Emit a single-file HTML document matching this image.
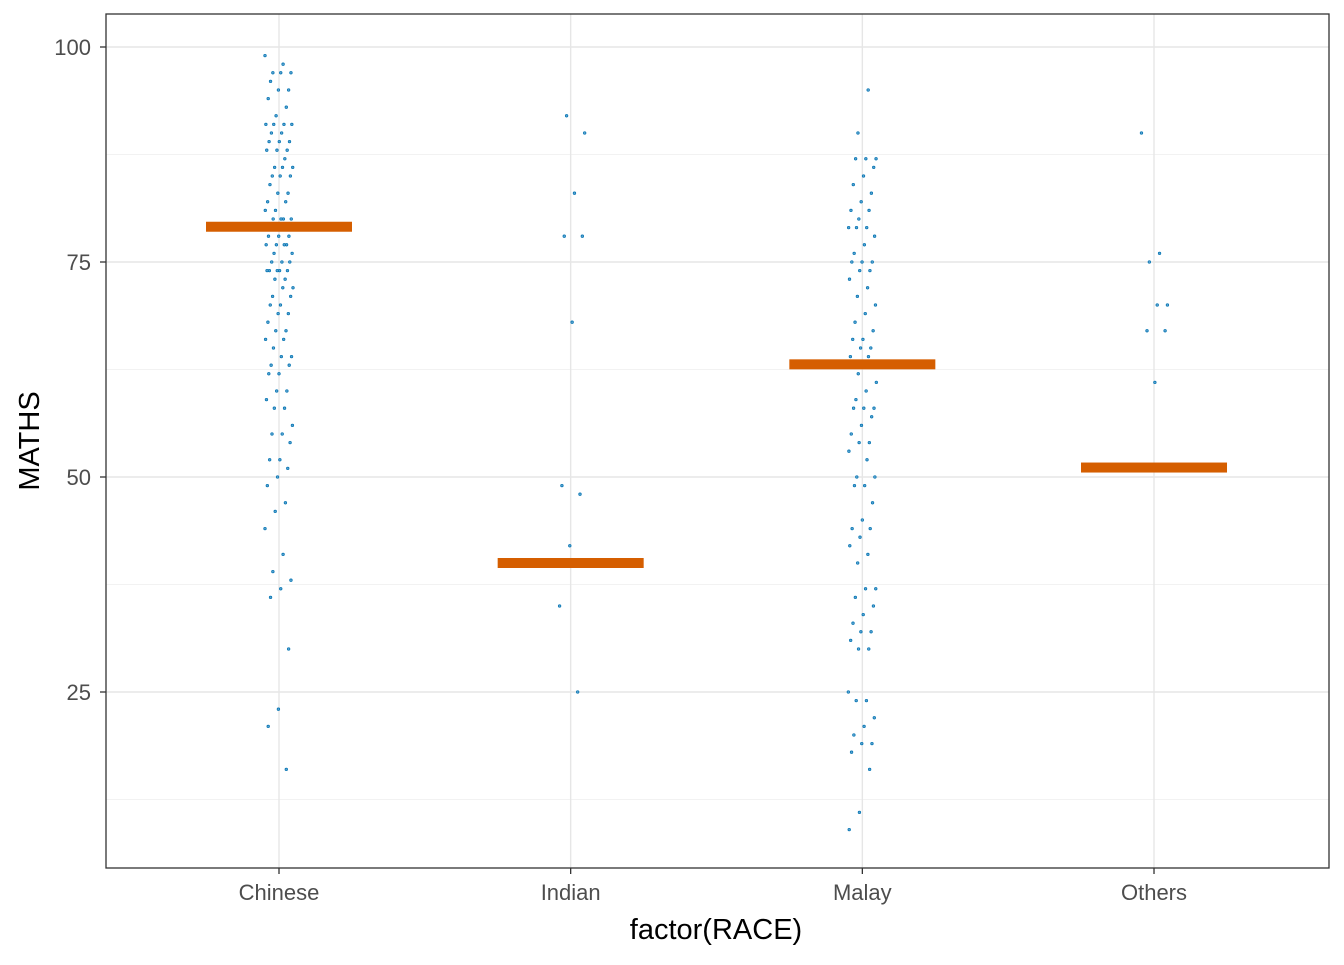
<!DOCTYPE html>
<html><head><meta charset="utf-8"><style>
body{margin:0;background:#fff}
svg text{font-family:"Liberation Sans",Arial,sans-serif}
</style></head><body>
<svg id="chart" width="1344" height="960">
<g id="grid"></g>
<g id="pts"></g>
<g id="means"></g>
<rect x="106" y="14" width="1223" height="854" fill="none" stroke="#333" stroke-width="1.3"/>
<g id="axes"></g>
<text x="716" y="939" text-anchor="middle" font-size="29" fill="#000">factor(RACE)</text>
<text transform="translate(39,441) rotate(-90)" text-anchor="middle" font-size="29" fill="#000">MATHS</text>
</svg>
<script>
const categories=["Chinese","Indian","Malay","Others"];
const yTicks=[25,50,75,100];
const yMinor=[12.5,37.5,62.5,87.5];
const meanValues=[79.1,40.0,63.1,51.1];
const chinese=[99,98,97,97,97,96,95,95,94,93,92,91,91,91,91,90,90,89,89,89,88,88,88,87,86,86,86,85,85,85,84,83,83,82,82,81,81,80,80,80,80,79,78,78,78,77,77,77,77,76,76,75,75,75,74,74,74,74,74,73,73,72,72,71,71,70,70,69,69,68,67,67,66,66,65,64,64,63,63,62,62,60,60,59,58,58,56,55,55,54,52,52,51,50,49,47,46,44,41,39,38,37,36,30,23,21,16];
const indian=[92,90,83,78,78,68,49,48,42,35,25];
const malay=[95,90,87,87,87,86,85,84,83,82,81,81,80,79,79,79,78,77,76,75,75,75,74,74,73,72,71,70,69,68,67,66,66,65,65,64,64,62,61,60,59,58,58,58,57,56,55,54,54,53,52,50,50,49,49,47,45,44,44,43,42,41,40,37,37,36,35,34,33,32,32,31,30,30,25,24,24,22,21,20,19,19,18,16,11,9];
const others=[90,76,75,70,70,67,67,61];
const series=[chinese,indian,malay,others];
const NS="http://www.w3.org/2000/svg";
const X=i=>279+i*291.67;
const Y=v=>477-(v-50)*8.6;
function mk(t,a,p){const e=document.createElementNS(NS,t);for(const k in a)e.setAttribute(k,a[k]);p.appendChild(e);return e;}
const grid=document.getElementById('grid');
yMinor.forEach(v=>{const l=mk('line',{x1:106,x2:1329,y1:Y(v),y2:Y(v),stroke:'#f2f2f2','stroke-width':1},grid);

});
yTicks.forEach(v=>{const l=mk('line',{x1:106,x2:1329,y1:Y(v),y2:Y(v),stroke:'#e6e6e6','stroke-width':1.4},grid);

});
categories.forEach((c,i)=>{const l=mk('line',{x1:X(i),x2:X(i),y1:14,y2:868,stroke:'#e6e6e6','stroke-width':1.4},grid);

});
const pts=document.getElementById('pts');
series.forEach((s,i)=>{s.forEach((v,j)=>{const jit=(((j*7919+i*131)%97)/96-0.5)*28;
const c=mk('circle',{cx:X(i)+jit,cy:Y(v),r:1.3,fill:'#5aa3cf',stroke:'#0072B2','stroke-width':0.7},pts);

});});
const means=document.getElementById('means');
meanValues.forEach((m,i)=>{
const r=mk('rect',{x:X(i)-73,y:Y(m)-5,width:146,height:10,fill:'#D55E00'},means);

});
const axes=document.getElementById('axes');
yTicks.forEach(v=>{mk('line',{x1:100,x2:106,y1:Y(v),y2:Y(v),stroke:'#333','stroke-width':1.3},axes);
const t=mk('text',{x:91,y:Y(v)+8,'text-anchor':'end','font-size':22,fill:'#4d4d4d'},axes);t.textContent=v;

});
categories.forEach((c,i)=>{mk('line',{x1:X(i),x2:X(i),y1:868,y2:874,stroke:'#333','stroke-width':1.3},axes);
const t=mk('text',{x:X(i),y:900,'text-anchor':'middle','font-size':22,fill:'#4d4d4d'},axes);t.textContent=c;

});
</script>
</body></html>
